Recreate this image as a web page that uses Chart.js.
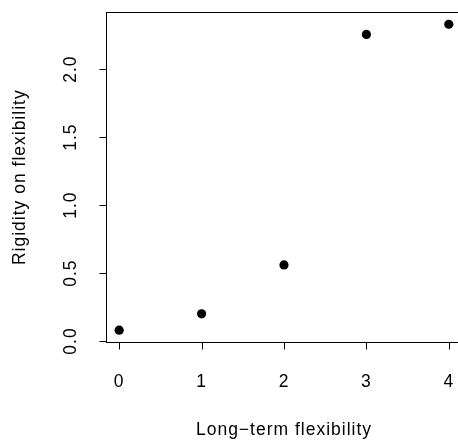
<!DOCTYPE html>
<html>
<head>
<meta charset="utf-8">
<script src="https://cdn.jsdelivr.net/npm/chart.js@4/dist/chart.umd.min.js"></script>
<style>
  html, body { margin: 0; background: #fff; overflow: hidden; }
  canvas { display: block; }
</style>
</head>
<body>
<canvas id="plot" width="470" height="441"></canvas>
<script>
// data
const longTerm = [0, 1, 2, 3, 4];
const rigidity = [0.08, 0.2, 0.56, 2.255, 2.33];
const xTicks = [0, 1, 2, 3, 4];
const yTicks = [0, 0.5, 1, 1.5, 2];
const xTickLabels = ['0', '1', '2', '3', '4'];
const yTickLabels = ['0.0', '0.5', '1.0', '1.5', '2.0'];
const xTitle = 'Long\u2212term flexibility';
const yTitle = 'Rigidity on flexibility';

const FONT = '17.5px "Liberation Sans", Arial, sans-serif';

// base-graphics style frame, ticks and labels
const rFrame = {
  id: 'rFrame',
  afterDraw(chart) {
    const {ctx, chartArea: a, scales: {x, y}} = chart;
    ctx.save();
    ctx.strokeStyle = '#000';
    ctx.lineWidth = 1;
    ctx.strokeRect(Math.round(a.left) + 0.5, Math.round(a.top) + 0.5,
                   Math.round(a.right - a.left), Math.round(a.bottom - a.top));

    ctx.fillStyle = '#000';
    ctx.font = FONT;
    ctx.letterSpacing = '1px';

    // x axis
    const yb = Math.round(a.bottom) + 0.5;
    ctx.beginPath();
    xTicks.forEach(v => {
      const px = Math.round(x.getPixelForValue(v)) + 0.5;
      ctx.moveTo(px, yb);
      ctx.lineTo(px, yb + 7);
    });
    ctx.stroke();
    ctx.textAlign = 'center';
    ctx.textBaseline = 'alphabetic';
    xTicks.forEach((v, i) => {
      ctx.fillText(xTickLabels[i], x.getPixelForValue(v), 387);
    });
    ctx.fillText(xTitle, (a.left + a.right) / 2, 435);

    // y axis
    const xl = Math.round(a.left) + 0.5;
    ctx.beginPath();
    yTicks.forEach(v => {
      const py = Math.round(y.getPixelForValue(v)) + 0.5;
      ctx.moveTo(xl, py);
      ctx.lineTo(xl - 7, py);
    });
    ctx.stroke();
    yTicks.forEach((v, i) => {
      ctx.save();
      ctx.translate(76, y.getPixelForValue(v));
      ctx.rotate(-Math.PI / 2);
      ctx.fillText(yTickLabels[i], 0, 0);
      ctx.restore();
    });
    ctx.save();
    ctx.translate(25, (a.top + a.bottom) / 2);
    ctx.rotate(-Math.PI / 2);
    ctx.fillText(yTitle, 0, 0);
    ctx.restore();
    ctx.restore();
  }
};

new Chart(document.getElementById('plot'), {
  type: 'scatter',
  data: {
    datasets: [{
      data: longTerm.map((v, i) => ({x: v, y: rigidity[i]})),
      backgroundColor: '#000',
      borderWidth: 0,
      pointRadius: 4.6,
      pointHoverRadius: 4.6
    }]
  },
  options: {
    responsive: false,
    animation: false,
    devicePixelRatio: 1,
    layout: { padding: { left: 106, right: 8, top: 12, bottom: 98.6 } },
    plugins: { legend: { display: false }, tooltip: { enabled: false } },
    scales: {
      x: { type: 'linear', min: -0.16, max: 4.16, display: false },
      y: { type: 'linear', min: -0.01, max: 2.42, display: false }
    }
  },
  plugins: [rFrame]
});
</script>
</body>
</html>
